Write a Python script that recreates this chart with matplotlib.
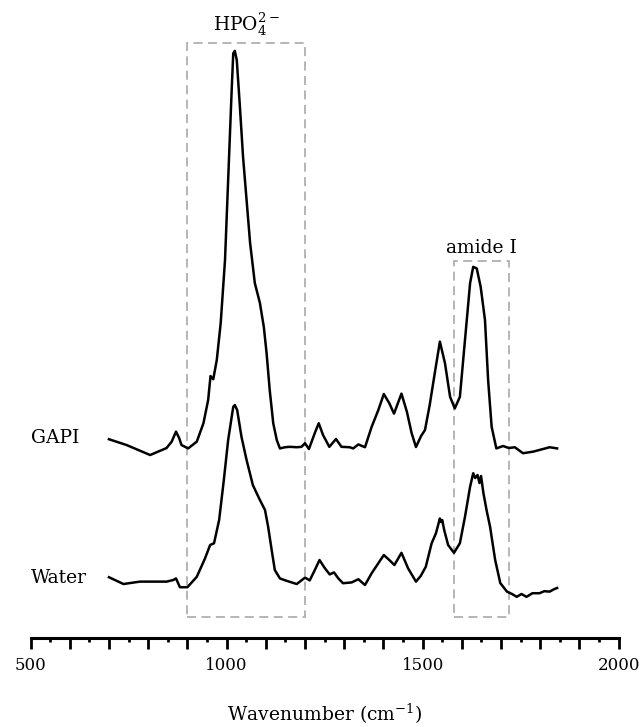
import matplotlib
matplotlib.use('Agg')
import matplotlib.pyplot as plt
from matplotlib.patches import Rectangle


gapi_wn = [700, 745, 805, 847, 860, 871, 879, 885, 902, 924, 941, 953, 959, 966,
           975, 985, 996, 1004, 1013, 1017, 1021, 1026, 1034, 1042, 1051, 1060,
           1072, 1085, 1095, 1102, 1110, 1119, 1128, 1136, 1149, 1161, 1179, 1191,
           1200, 1210, 1225, 1235, 1246, 1262, 1279, 1293, 1314, 1323, 1336, 1353,
           1370, 1387, 1401, 1415, 1427, 1446, 1460, 1472, 1483, 1496, 1506, 1518,
           1531, 1544, 1557, 1570, 1582, 1595, 1608, 1621, 1629, 1638, 1648, 1659,
           1667, 1676, 1688, 1705, 1720, 1735, 1756, 1782, 1824, 1843]
gapi_int = [0.027, 0.0125, -0.0125, 0.005, 0.021, 0.046, 0.030, 0.0125, 0.004,
            0.021, 0.067, 0.125, 0.185, 0.177, 0.225, 0.3175, 0.475, 0.675, 0.90,
            0.992, 0.998, 0.975, 0.858, 0.733, 0.625, 0.5175, 0.4175, 0.3675,
            0.3075, 0.2425, 0.15, 0.067, 0.025, 0.004, 0.007, 0.008, 0.007, 0.008,
            0.017, 0.0025, 0.0425, 0.067, 0.0375, 0.008, 0.0275, 0.008, 0.007,
            0.004, 0.014, 0.007, 0.058, 0.10, 0.14, 0.117, 0.091, 0.141, 0.095,
            0.042, 0.0075, 0.035, 0.05, 0.1125, 0.1925, 0.271, 0.217, 0.133, 0.104,
            0.133, 0.275, 0.417, 0.458, 0.454, 0.408, 0.325, 0.175, 0.058, 0.004,
            0.01, 0.005, 0.007, -0.008, -0.004, 0.007, 0.004]

water_wn = [700, 737, 779, 847, 864, 871, 881, 900, 924, 945, 958, 968, 981, 993,
            1004, 1017, 1021, 1027, 1038, 1051, 1067, 1083, 1098, 1106, 1115, 1123,
            1136, 1153, 1179, 1200, 1212, 1225, 1237, 1251, 1263, 1274, 1285, 1297,
            1319, 1336, 1353, 1370, 1387, 1401, 1415, 1428, 1446, 1463, 1483, 1495,
            1508, 1523, 1534, 1544, 1547, 1550, 1555, 1565, 1580, 1595, 1608, 1621,
            1629, 1634, 1640, 1645, 1649, 1655, 1663, 1672, 1685, 1698, 1715, 1728,
            1740, 1752, 1765, 1780, 1798, 1810, 1824, 1835, 1843]
water_int = [0.032, 0.015, 0.021, 0.021, 0.025, 0.029, 0.007, 0.007, 0.033, 0.079,
             0.1125, 0.117, 0.175, 0.275, 0.375, 0.458, 0.4625, 0.45, 0.383, 0.325,
             0.2625, 0.229, 0.20, 0.158, 0.10, 0.05, 0.029, 0.023, 0.015, 0.031,
             0.024, 0.05, 0.075, 0.054, 0.039, 0.044, 0.029, 0.017, 0.019, 0.027,
             0.0125, 0.042, 0.067, 0.0875, 0.075, 0.0625, 0.093, 0.054, 0.021,
             0.035, 0.058, 0.117, 0.142, 0.179, 0.17, 0.175, 0.15, 0.1125, 0.093,
             0.117, 0.183, 0.258, 0.292, 0.28, 0.2875, 0.2675, 0.285, 0.2425, 0.20,
             0.158, 0.075, 0.0175, -0.004, -0.01, -0.017, -0.01, -0.017, -0.008,
             -0.008, -0.003, -0.004, 0.002, 0.005]

sample_names = ['GAPI', 'Water']
# highlighted bands (start, end of wavenumber range)
band_names = ['HPO$_{\\mathrm{4}}^{\\mathrm{2-}}$', 'amide I']
band_ranges = [(900, 1200), (1580, 1720)]

plt.rcParams['font.family'] = ['DejaVu Serif']
plt.rcParams['mathtext.fontset'] = 'dejavuserif'

fig = plt.figure(figsize=(6.4, 7.27), dpi=100)
ax = fig.add_axes([0.0477, 0.1224, 0.919, 0.850])

# vertical stacking of the spectra
offsets = [0.475, 0.125]
for wn, inten, off in zip([gapi_wn, water_wn], [gapi_int, water_int], offsets):
    ax.plot(wn, [v + off for v in inten], color='black', lw=1.8)

for name, off in zip(sample_names, offsets):
    ax.text(500, off + 0.03, name, fontsize=13.5, ha='left', va='center')

# dashed boxes round the bands
box_tops = [1.4925, 0.9475]
label_y = [1.5375, 0.98]
for (x0, x1), top, name, ly in zip(band_ranges, box_tops, band_names, label_y):
    ax.add_patch(Rectangle((x0, 0.0575), x1 - x0, top - 0.0575, fill=False,
                           edgecolor='#b0b0b0', lw=1.3, ls=(0, (5, 3))))
    ax.text((x0 + x1) / 2, ly, name, fontsize=13.5, ha='center', va='center')

ax.set_xlim(500, 2000)
ax.set_ylim(0.005, 1.55)
ax.set_xticks(range(500, 2001, 100), minor=False)
ax.set_xticks(range(550, 2000, 100), minor=True)
ax.set_xticklabels([str(t) if t % 500 == 0 else '' for t in range(500, 2001, 100)])
ax.set_yticks([])
for side in ['top', 'right', 'left']:
    ax.spines[side].set_visible(False)
ax.spines['bottom'].set_linewidth(2.2)
ax.tick_params(axis='x', which='major', length=8, width=2, labelsize=12, pad=6)
ax.tick_params(axis='x', which='minor', length=3, width=2)
ax.set_xlabel('Wavenumber (cm$^{-1}$)', fontsize=13.5, labelpad=20)

fig.savefig('out.png', dpi=100)
